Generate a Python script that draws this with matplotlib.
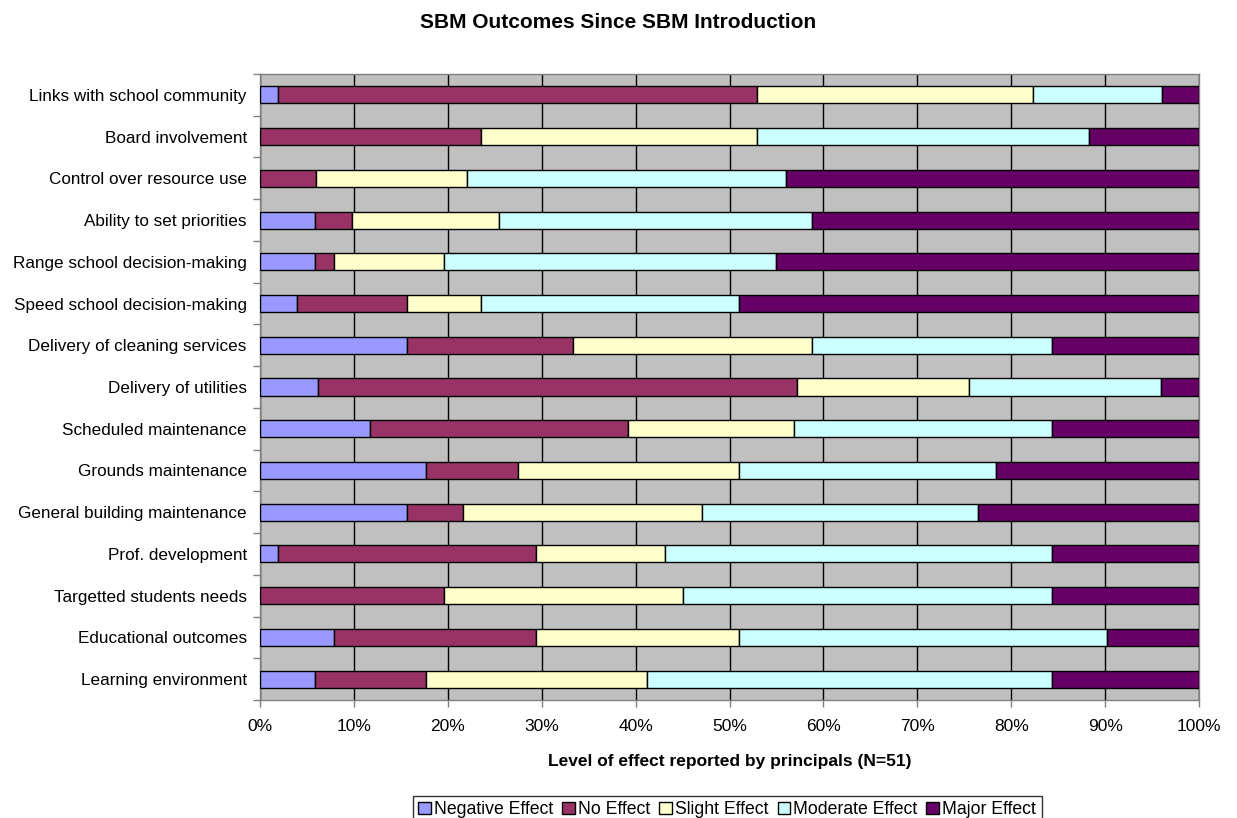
import matplotlib; matplotlib.use('Agg')
import matplotlib.pyplot as plt
import matplotlib.patches as mpatches
import numpy as np
from matplotlib.ticker import FixedLocator, PercentFormatter

plt.rcParams.update({'font.family': ['Liberation Sans', 'DejaVu Sans'], 'font.size': 12.3})

# Items, top row first
items = [
    'Links with school community',
    'Board involvement',
    'Control over resource use',
    'Ability to set priorities',
    'Range school decision-making',
    'Speed school decision-making',
    'Delivery of cleaning services',
    'Delivery of utilities',
    'Scheduled maintenance',
    'Grounds maintenance',
    'General building maintenance',
    'Prof. development',
    'Targetted students needs',
    'Educational outcomes',
    'Learning environment',
]

levels = ['Negative Effect', 'No Effect', 'Slight Effect', 'Moderate Effect', 'Major Effect']

# number of principals giving each response, per item
negative = [1, 0, 0, 3, 3, 2, 8, 3, 6, 9, 8, 1, 0, 4, 3]
no_eff   = [26, 12, 3, 2, 1, 6, 9, 25, 14, 5, 3, 14, 10, 11, 6]
slight   = [15, 15, 8, 8, 6, 4, 13, 9, 9, 12, 13, 7, 13, 11, 12]
moderate = [7, 18, 17, 17, 18, 14, 13, 10, 14, 14, 15, 21, 20, 20, 22]
major    = [2, 6, 22, 21, 23, 25, 8, 2, 8, 11, 12, 8, 8, 5, 8]

colors = ['#9999FF', '#993366', '#FFFFCC', '#CCFFFF', '#660066']

counts = np.array([negative, no_eff, slight, moderate, major], dtype=float)
pct = counts / counts.sum(axis=0) * 100

fig = plt.figure(figsize=(12.37, 8.18), dpi=100)
fig.patch.set_facecolor('white')
ax = fig.add_axes([0.2102, 0.1443, 0.7591, 0.7652])
ax.set_facecolor('#C0C0C0')

y = np.arange(len(items))
left = np.zeros(len(items))
for vals, col, name in zip(pct, colors, levels):
    ax.barh(y, vals, left=left, height=0.41, color=col, edgecolor='black',
            linewidth=1.0, label=name, zorder=3)
    left += vals

ax.set_xlim(0, 100)
ax.set_ylim(len(items) - 0.5, -0.5)

# vertical gridlines every 10%
ax.xaxis.set_major_locator(FixedLocator(np.arange(0, 101, 10)))
ax.xaxis.set_major_formatter(PercentFormatter(decimals=0))
ax.grid(axis='x', color='black', linewidth=1.0, zorder=1)
ax.set_axisbelow(True)
ax.tick_params(axis='x', direction='out', length=5, width=1, color='#808080',
               pad=9, labelsize=12.5)

# category ticks sit between rows, labels at row centres
ax.yaxis.set_major_locator(FixedLocator(np.arange(-0.5, len(items), 1.0)))
ax.yaxis.set_major_formatter(plt.NullFormatter())
ax.yaxis.set_minor_locator(FixedLocator(y))
ax.set_yticklabels(items, minor=True)
ax.tick_params(axis='y', which='major', direction='out', length=5, width=1, color='#808080')
ax.tick_params(axis='y', which='minor', length=0, pad=9.5, labelsize=12.3)

for s in ax.spines.values():
    s.set_color('#808080')
    s.set_linewidth(1.0)

fig.text(0.5, 0.973, 'SBM Outcomes Since SBM Introduction', ha='center', va='center',
         fontsize=15, fontweight='bold')
fig.text(0.5897, 0.0685, 'Level of effect reported by principals (N=51)', ha='center',
         va='center', fontsize=12.5, fontweight='bold')

handles = [mpatches.Patch(facecolor=c, edgecolor='black', linewidth=1.0, label=n)
           for c, n in zip(colors, levels)]
leg = fig.legend(handles=handles, loc='upper center', bbox_to_anchor=(0.588, 0.027),
                 ncol=5, frameon=True, fancybox=False, edgecolor='black',
                 handlelength=0.7, handleheight=0.7, handletextpad=0.2,
                 columnspacing=0.5, borderpad=0.3, borderaxespad=0, fontsize=12.7)
leg.get_frame().set_linewidth(1.0)

fig.savefig('out.png', dpi=100)
